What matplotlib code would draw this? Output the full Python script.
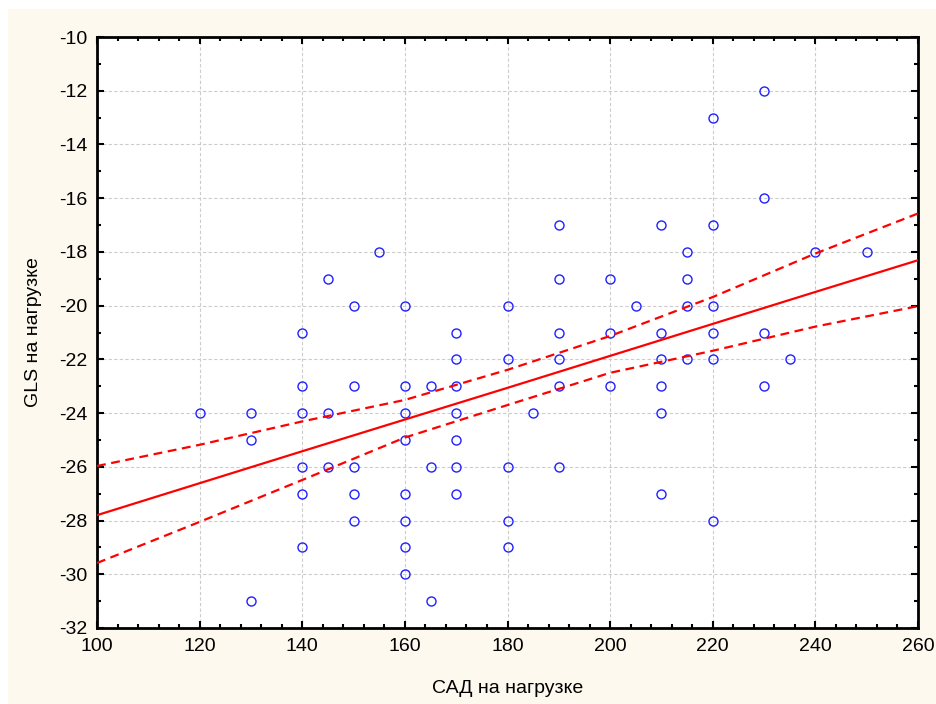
import numpy as np
import matplotlib
matplotlib.use("Agg")
import matplotlib.pyplot as plt
from matplotlib.ticker import MultipleLocator
from matplotlib.patches import Rectangle

# Data: САД на нагрузке (x) vs GLS на нагрузке (y)
sad = [120,
       130, 130, 130,
       140, 140, 140, 140, 140, 140,
       145, 145, 145,
       150, 150, 150, 150, 150,
       155,
       160, 160, 160, 160, 160, 160, 160, 160,
       165, 165, 165,
       170, 170, 170, 170, 170, 170, 170,
       180, 180, 180, 180, 180,
       185,
       190, 190, 190, 190, 190, 190,
       200, 200, 200,
       205,
       210, 210, 210, 210, 210, 210,
       215, 215, 215, 215,
       220, 220, 220, 220, 220, 220,
       230, 230, 230, 230,
       235, 240, 250]
gls = [-24,
       -24, -25, -31,
       -21, -23, -24, -26, -27, -29,
       -19, -24, -26,
       -20, -23, -26, -27, -28,
       -18,
       -20, -23, -24, -25, -27, -28, -29, -30,
       -23, -26, -31,
       -21, -22, -23, -24, -25, -26, -27,
       -20, -22, -26, -28, -29,
       -24,
       -17, -19, -21, -22, -23, -26,
       -19, -21, -23,
       -20,
       -17, -21, -22, -23, -24, -27,
       -18, -19, -20, -22,
       -13, -17, -20, -21, -22, -28,
       -12, -16, -21, -23,
       -22, -18, -18]

# Regression line and 95% confidence band
fit_x = [100, 120, 140, 160, 180, 200, 220, 240, 260]
fit_mean = [-27.80, -26.61, -25.42, -24.24, -23.06, -21.87, -20.68, -19.49, -18.31]
ci_upper = [-25.97, -25.18, -24.31, -23.51, -22.39, -21.13, -19.68, -18.06, -16.57]
ci_lower = [-29.58, -28.05, -26.49, -24.91, -23.70, -22.50, -21.68, -20.78, -20.02]

plt.rcParams['font.family'] = ['Liberation Sans', 'DejaVu Sans']
plt.rcParams['axes.unicode_minus'] = False

fig = plt.figure(figsize=(9.36, 7.04), dpi=100, facecolor='white')
fig.patches.append(Rectangle((8 / 936, 0), 1, 1 - 9 / 704, transform=fig.transFigure,
                             facecolor='#fdf9ef', edgecolor='none', zorder=-10))
ax = fig.add_axes([97 / 936, 1 - 628 / 704, (918 - 97) / 936, (628 - 37) / 704])
ax.set_facecolor('white')

ax.plot(sad, gls, 'o', mfc='none', mec='#2020ff', ms=6.5, mew=1.0, zorder=3, clip_on=False)
ax.plot(fit_x, fit_mean, color='#ff0000', lw=1.6, zorder=4)
ax.plot(fit_x, ci_upper, color='#ff0000', lw=1.6, ls=(0, (4, 2.5)), zorder=4)
ax.plot(fit_x, ci_lower, color='#ff0000', lw=1.6, ls=(0, (4, 2.5)), zorder=4)

ax.set_xlim(100, 260)
ax.set_ylim(-32, -10)
ax.xaxis.set_major_locator(MultipleLocator(20))
ax.xaxis.set_minor_locator(MultipleLocator(4))
ax.yaxis.set_major_locator(MultipleLocator(2))
ax.yaxis.set_minor_locator(MultipleLocator(1))
ax.tick_params(which='both', direction='in', top=True, right=True, width=1.5, color='black')
ax.tick_params(which='major', length=5, labelsize=14, pad=7)
ax.tick_params(which='minor', length=3)
ax.grid(True, which='major', color='#cccccc', ls=(0, (3, 2)), lw=0.8)
for sp in ax.spines.values():
    sp.set_linewidth(2)
    sp.set_color('black')

ax.set_xlabel('САД на нагрузке', fontsize=14, labelpad=18)
ax.set_ylabel('GLS на нагрузке', fontsize=14, labelpad=12)

fig.savefig('out.png', dpi=100, facecolor=fig.get_facecolor())
